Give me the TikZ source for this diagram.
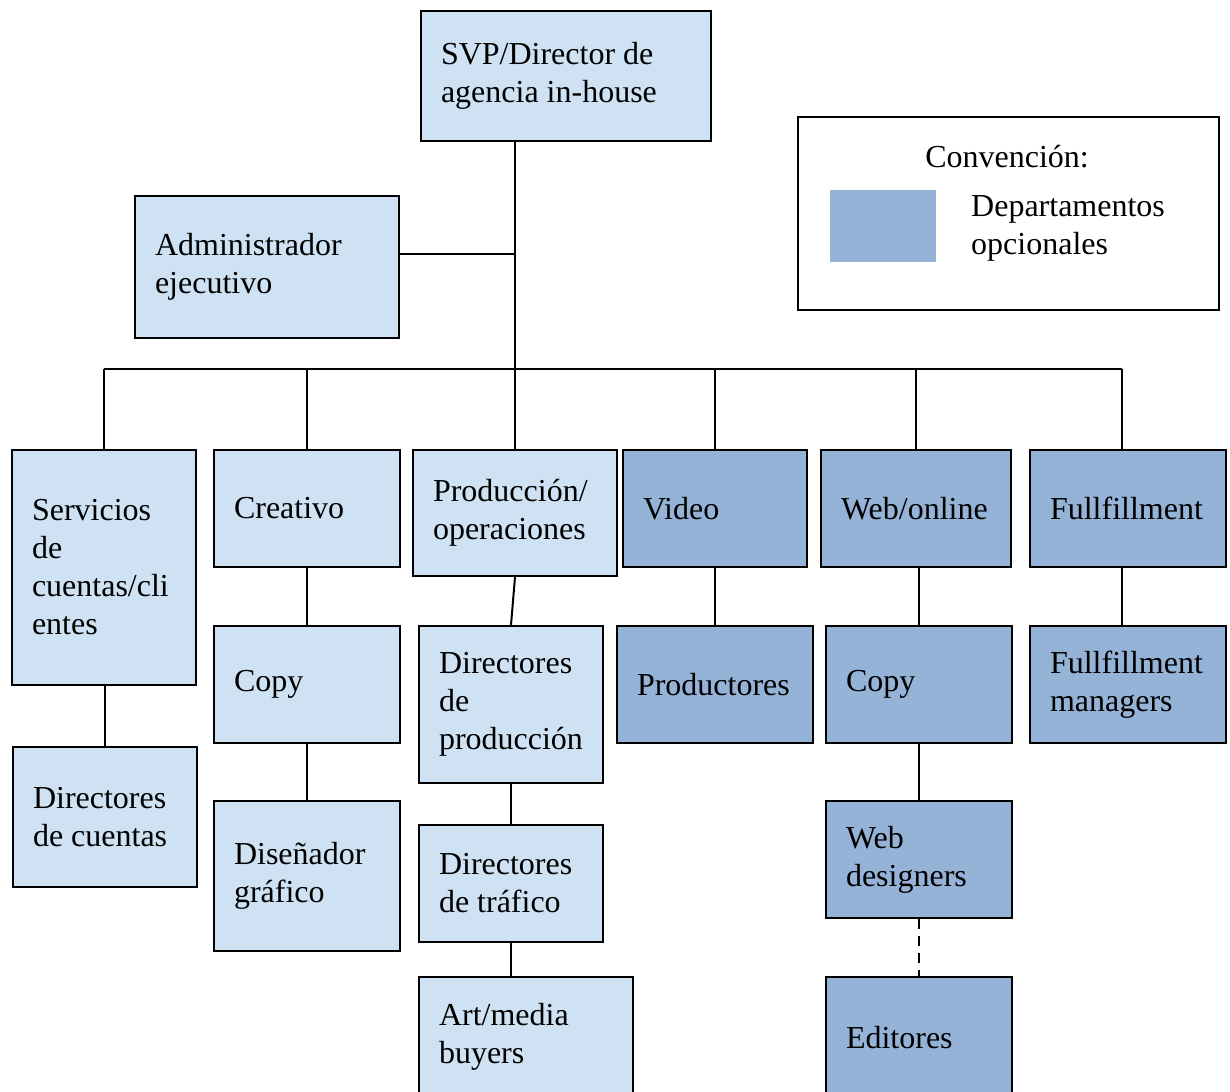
\documentclass[tikz,border=0pt]{standalone}
\usepackage{fontspec}
\setmainfont{Liberation Serif}
\definecolor{lightdept}{HTML}{CFE2F3}
\definecolor{optdept}{HTML}{95B3D7}
\tikzset{
  dept/.style={draw, line width=2pt, fill=lightdept, anchor=north west, align=flush left,
    inner xsep=20pt, inner ysep=0pt, font=\fontsize{32}{38}\selectfont},
  optional/.style={dept, fill=optdept},
  link/.style={line width=2pt},
}
\begin{document}
\begin{tikzpicture}[x=1pt,y=-1pt]
\useasboundingbox (0,0) rectangle (1230,1091);
\clip (0,0) rectangle (1230,1091);

% top
\node[dept, minimum width=290, minimum height=130, text width=250] (svp) at (420,10) {SVP/Director de\\agencia in-house};
\node[dept, minimum width=264, minimum height=142, text width=224] (admin) at (134,195) {Administrador\\ejecutivo};

% legend
\node[draw, line width=2pt, minimum width=421, minimum height=193, anchor=north west] (legend) at (797,116) {};
\node[font=\fontsize{32}{38}\selectfont] (legtitle) at (1007,157) {Convención:};
\node[fill=optdept, minimum width=106, minimum height=72, anchor=north west, inner sep=0pt] (swatch) at (830,190) {};
\node[anchor=west, align=flush left, inner sep=0pt, font=\fontsize{32}{38}\selectfont] (legtext) at (971,228) {Departamentos\\opcionales};

% first row
\node[dept, minimum width=184, minimum height=235, text width=144] (serv) at (11,449) {Servicios\\de\\cuentas/cli\\entes};
\node[dept, minimum width=186, minimum height=117, text width=146] (crea) at (213,449) {Creativo};
\node[dept, minimum width=204, minimum height=126, text width=164] (prod) at (412,449) {Producción/\\operaciones};
\node[optional, minimum width=184, minimum height=117, text width=144] (video) at (622,449) {Video};
\node[optional, minimum width=190, minimum height=117, text width=150] (web) at (820,449) {Web/online};
\node[optional, minimum width=196, minimum height=117, text width=156] (full) at (1029,449) {Fullfillment};

% second row
\node[dept, minimum width=184, minimum height=140, text width=144] (dircu) at (12,746) {Directores\\de cuentas};
\node[dept, minimum width=186, minimum height=117, text width=146] (copy) at (213,625) {Copy};
\node[dept, minimum width=184, minimum height=157, text width=144] (dirprod) at (418,625) {Directores\\de\\producción};
\node[optional, minimum width=196, minimum height=117, text width=156] (productores) at (616,625) {Productores};
\node[optional, minimum width=186, minimum height=117, text width=146] (webcopy) at (825,625) {Copy};
\node[optional, minimum width=196, minimum height=117, text width=156] (fullman) at (1029,625) {Fullfillment\\managers};

% third row
\node[dept, minimum width=186, minimum height=150, text width=146] (disen) at (213,800) {Diseñador\\gráfico};
\node[dept, minimum width=184, minimum height=117, text width=144] (dirtraf) at (418,824) {Directores\\de tráfico};
\node[optional, minimum width=186, minimum height=117, text width=146] (webdes) at (825,800) {Web\\designers};

% fourth row
\node[dept, minimum width=214, minimum height=120, text width=174] (buyers) at (418,976) {Art/media\\buyers};
\node[optional, minimum width=186, minimum height=122, text width=146] (editores) at (825,976) {Editores};

% connectors
\coordinate (bus) at (0,369);
\draw[link] (prod.north |- svp.south) -- (prod.north);
\draw[link] ([yshift=13pt]admin.east) -- ([yshift=13pt]admin.east -| prod.north);
\draw[link] (serv.north |- bus) -- ([xshift=-6pt]full.north |- bus);
\foreach \n in {serv,crea,video,web}
  \draw[link] (\n.north |- bus) -- (\n.north);
\draw[link] ([xshift=-6pt]full.north |- bus) -- ([xshift=-6pt]full.north);

\draw[link] (dircu.north |- serv.south) -- (dircu.north);
\draw[link] (crea.south) -- (copy.north);
\draw[link] (copy.south) -- (disen.north);
\draw[link] (prod.south) -- (dirprod.north);
\draw[link] (dirprod.south) -- (dirtraf.north);
\draw[link] (dirtraf.south) -- (dirtraf.south |- buyers.north);
\draw[link] (video.south) -- (video.south |- productores.north);
\draw[link] (webcopy.north |- web.south) -- (webcopy.north);
\draw[link] (webcopy.south) -- (webdes.north);
\draw[link, dash pattern=on 10pt off 7pt] (webdes.south) -- (editores.north);
\draw[link] ([xshift=-6pt]full.south) -- ([xshift=-6pt]full.south |- fullman.north);
\end{tikzpicture}
\end{document}
